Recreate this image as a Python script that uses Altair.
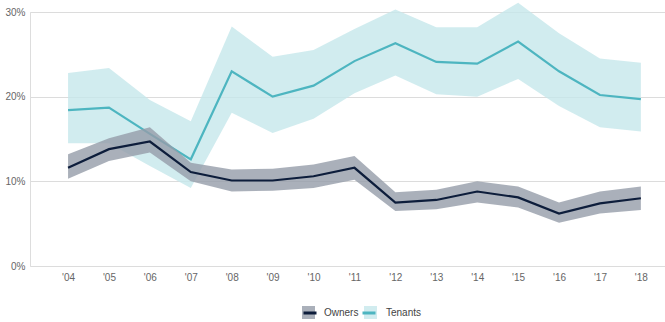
import altair as alt
import pandas as pd

years = list(range(2004, 2019))
owners = [11.6, 13.8, 14.7, 11.1, 10.1, 10.1, 10.6, 11.6, 7.5, 7.8, 8.8, 8.1, 6.2, 7.4, 8.0]
owners_lo = [10.3, 12.4, 13.4, 10.0, 8.8, 8.9, 9.2, 10.2, 6.5, 6.7, 7.5, 6.9, 5.1, 6.2, 6.6]
owners_hi = [13.2, 15.1, 16.4, 12.2, 11.4, 11.5, 12.0, 13.0, 8.7, 9.0, 10.0, 9.4, 7.5, 8.8, 9.4]
tenants = [18.4, 18.7, 15.6, 12.6, 23.0, 20.0, 21.3, 24.2, 26.3, 24.1, 23.9, 26.5, 23.0, 20.2, 19.7]
tenants_lo = [14.5, 14.5, 11.8, 9.2, 18.1, 15.7, 17.4, 20.4, 22.5, 20.3, 20.0, 22.1, 18.9, 16.4, 15.9]
tenants_hi = [22.8, 23.4, 19.6, 17.1, 28.3, 24.7, 25.5, 28.0, 30.3, 28.2, 28.2, 31.1, 27.5, 24.5, 24.0]
series = ["Owners", "Tenants"]

rows = []
for name, v, lo, hi in [("Owners", owners, owners_lo, owners_hi),
                        ("Tenants", tenants, tenants_lo, tenants_hi)]:
    for y, a, b, c in zip(years, v, lo, hi):
        rows.append({"year": y, "value": a, "lo": b, "hi": c, "series": name, "series_l": name})
df = pd.DataFrame(rows)

band_colors = ["#959ca9", "#c6e7eb"]
line_colors = ["#0d1d3b", "#4db5c0"]
FONT = "Liberation Sans"

x = alt.X("year:Q", scale=alt.Scale(domain=[2003.07, 2018.59], nice=False, zero=False),
          axis=alt.Axis(values=years, format="d", labelExpr="\"'\" + substring(datum.label, 2, 4)",
                        title=None, domain=False, ticks=False, grid=False, labelPadding=6,
                        labelFontSize=10, labelColor="#666", labelFont=FONT))
yscale = alt.Scale(domain=[0, 30], nice=False)

legend_common = dict(orient="none", direction="horizontal", title=None, legendX=272,
                     symbolSize=169, labelFontSize=10, labelFont=FONT, symbolOffset=0)

fill_enc = alt.Fill("series:N", scale=alt.Scale(domain=series, range=band_colors),
                    legend=alt.Legend(symbolType="M-1,-1H1V1H-1Z", labelColor="#444",
                                      symbolStrokeWidth=0, labelOffset=9, columnPadding=5,
                                      legendY=294, **legend_common))
stroke_enc = alt.Stroke("series_l:N", scale=alt.Scale(range=line_colors),
                        legend=alt.Legend(symbolType="M-1,0H1", symbolStrokeWidth=3,
                                          labelExpr="''", labelOffset=0, columnPadding=33,
                                          legendY=293, **legend_common))

base = alt.Chart(df)


def band_layer(name):
    return base.transform_filter(alt.datum.series == name).mark_area(opacity=0.8, clip=False).encode(
        x=x,
        y=alt.Y("lo:Q", scale=yscale,
                axis=alt.Axis(values=[0, 10, 20, 30], labelExpr="datum.value + '%'", title=None,
                              domain=False, ticks=False, gridColor="#dcdcdc", gridWidth=1,
                              labelPadding=5, labelFontSize=10, labelColor="#666", labelFont=FONT)),
        y2="hi:Q",
        fill=fill_enc,
    )


def line_layer(name):
    return base.transform_filter(alt.datum.series == name).mark_line(strokeWidth=2.2).encode(
        x=x,
        y=alt.Y("value:Q", scale=yscale),
        stroke=stroke_enc,
    )


chart = alt.layer(
    band_layer("Tenants"), line_layer("Tenants"), band_layer("Owners"), line_layer("Owners")
).properties(
    width=635, height=254,
    autosize=alt.AutoSizeParams(type="none"),
    padding={"left": 30, "top": 12, "right": 0, "bottom": 56},
).configure_view(stroke=None).configure(background="white")

chart.save("out.html", embed_options={"renderer": "svg", "actions": False})
